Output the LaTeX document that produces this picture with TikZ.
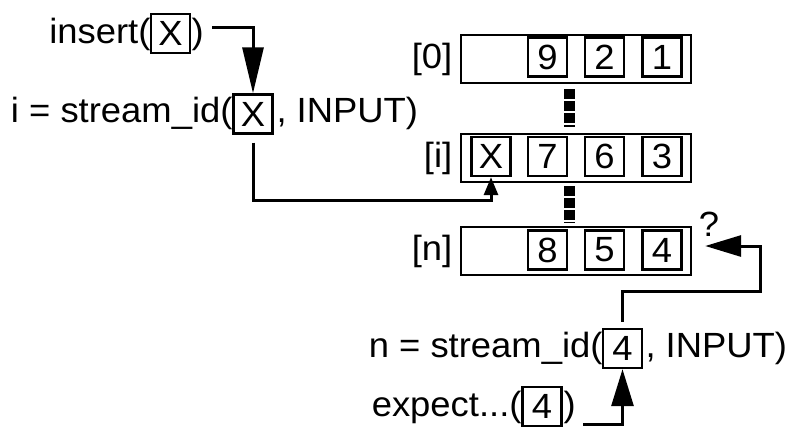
\documentclass[tikz,border=0pt]{standalone}
\usepackage{fontspec}
\setmainfont[FakeStretch=1.04]{Liberation Sans}
\usetikzlibrary{arrows.meta}
\usetikzlibrary{positioning}

\begin{document}
\begin{tikzpicture}[x=1pt, y=-1pt, line width=3pt,
    every node/.style={font=\fontsize{35}{42}\selectfont, inner sep=0pt},
    cell/.style={draw, line width=2.4pt, minimum width=39pt, minimum height=39pt},
    row/.style={draw, line width=2.4pt, minimum width=230pt, minimum height=48pt},
    dots/.style={line width=11pt, dash pattern=on 10pt off 2pt}]
    \useasboundingbox (0,0) rectangle (793,426);
    \node[row] (r0) at (576,59) {};
    \node[row] (ri) at (576,158) {};
    \node[row] (rn) at (576,251) {};
    \node[left=6pt of r0] (l0) {[0]};
    \node[left=6pt of ri] (li) {[i]};
    \node[left=6pt of rn] (ln) {[n]};
    \node[cell] (c09) at (547.5,57) {9};
    \node[cell] (c02) at (604.5,57) {2};
    \node[cell] (c01) at (662,57) {1};
    \node[cell] (cix) at (491,156.5) {X};
    \node[cell] (ci7) at (547.5,156.5) {7};
    \node[cell] (ci6) at (604.5,156.5) {6};
    \node[cell] (ci3) at (662,156.5) {3};
    \node[cell] (cn8) at (547.5,250) {8};
    \node[cell] (cn5) at (604.5,250) {5};
    \node[cell] (cn4) at (662,250) {4};
    \draw[dots] (569.5,89) -- (569.5,127);
    \draw[dots] (569.5,186) -- (569.5,223);
    \node at (709,224) (qm) {?};

    \node[cell] (xa) at (170.5,33.5) {X};
    \node[anchor=base east] (ins) at (152,43) {insert(};
    \node[anchor=base west] (insr) at (190,43) {)};
    \node[cell] (xb) at (253,114) {X};
    \node[anchor=base east] (sid) at (234,122.5) {i = stream\_id(};
    \node[anchor=base west] (sidr) at (275,122.5) {, INPUT)};
    \node[cell] (na) at (622.5,348.5) {4};
    \node[anchor=base east] (nid) at (604,357) {n = stream\_id(};
    \node[anchor=base west] (nidr) at (644,357) {, INPUT)};
    \node[cell] (ea) at (542,406.5) {4};
    \node[anchor=base east] (exp) at (523,416) {expect...(};
    \node[anchor=base west] (expr) at (562,416) {)};

    \coordinate (insend) at (212,27);
    \coordinate (expend) at (583,424);
    \draw[-{Triangle[length=46pt, width=21pt]}] (insend) -| (xb.north);
    \draw[-{Triangle[length=18pt, width=14pt]}, shorten <=8pt] (xb.south) -- ++(0,66) -| (cix.south);
    \draw[-{Triangle[length=36pt, width=21pt]}, shorten <=6pt] (na.north) -- ++(0,-36) -| ([shift={(68,-5)}]rn.east) -- ([shift={(13,-5)}]rn.east);
    \draw[-{Triangle[length=37pt, width=22pt]}] (expend) -| (na.south);
\end{tikzpicture}
\end{document}
